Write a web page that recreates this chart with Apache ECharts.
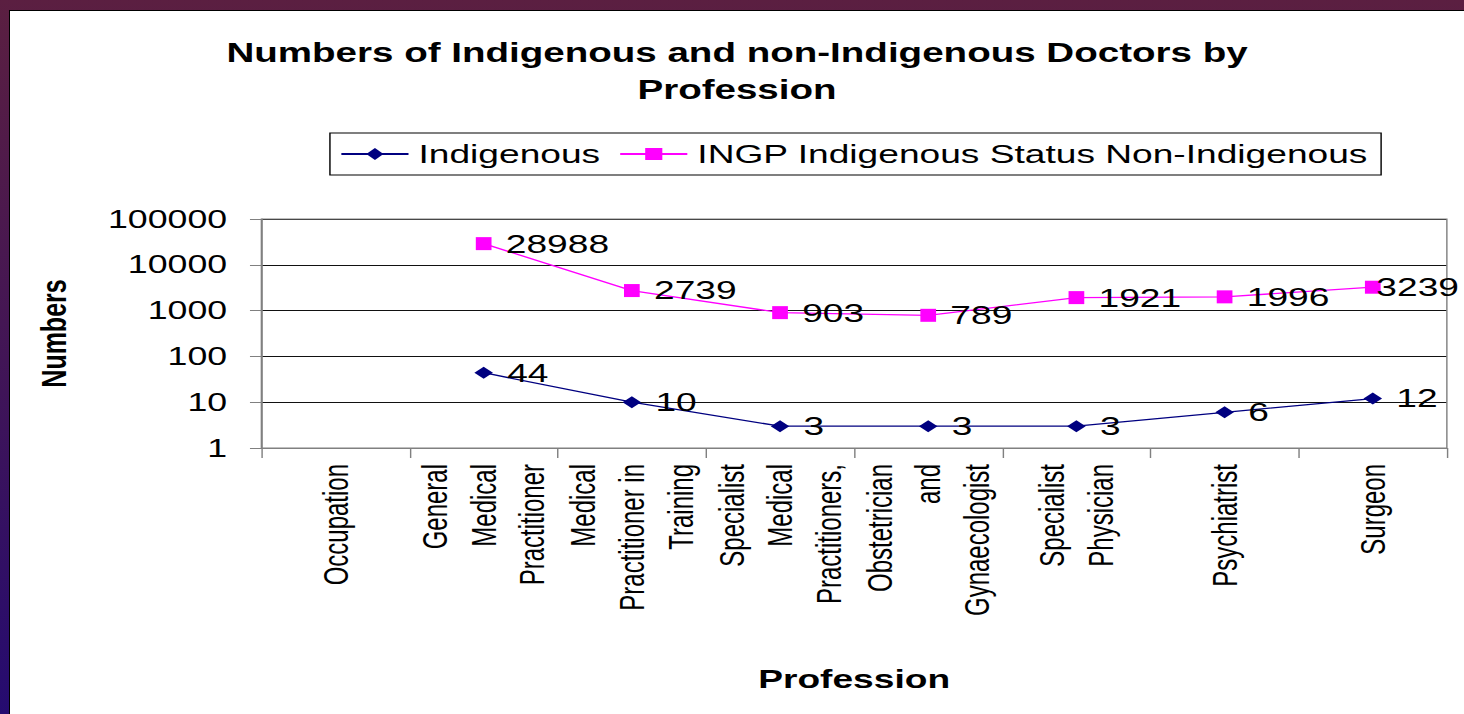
<!DOCTYPE html>
<html>
<head>
<meta charset="utf-8">
<title>Numbers of Indigenous and non-Indigenous Doctors by Profession</title>
<script src="https://cdn.jsdelivr.net/npm/echarts@6/dist/echarts.min.js"></script>
<style>
  html, body {
    margin: 0;
    width: 1464px;
    height: 714px;
    overflow: hidden;
    background: linear-gradient(to bottom, #5b1f41 0%, #3f1458 55%, #250b70 100%);
  }
  .slide {
    position: absolute;
    left: 9px;
    top: 10px;
    right: 0;
    bottom: 0;
    box-sizing: border-box;
    background: #fff;
    border-left: 1px solid #000;
    border-top: 1px solid #000;
    overflow: hidden;
  }
  /* the source picture is stretched sideways, so the chart is too */
  #chart {
    position: absolute;
    left: 0;
    top: 0;
    width: 1018px;
    height: 703px;
    transform: scaleX(1.4283);
    transform-origin: 0 0;
  }
</style>
</head>
<body>
<div class="slide"><div id="chart"></div></div>
<script>
const categories = [
  'Occupation',
  'General Medical Practitioner',
  'Medical Practitioner in Training',
  'Specialist Medical Practitioners,',
  'Obstetrician and Gynaecologist',
  'Specialist Physician',
  'Psychiatrist',
  'Surgeon'
]
// axis text as it wraps on the picture
const tickLabels = [
  'Occupation',
  'General\nMedical\nPractitioner',
  'Medical\nPractitioner in\nTraining',
  'Specialist\nMedical\nPractitioners,',
  'Obstetrician\nand\nGynaecologist',
  'Specialist\nPhysician',
  'Psychiatrist',
  'Surgeon'
]
const indigenous = [null, 44, 10, 3, 3, 3, 6, 12]
const nonIndigenous = [null, 28988, 2739, 903, 789, 1921, 1996, 3239]
const yTicks = [1, 10, 100, 1000, 10000, 100000]

const FONT = 'Arial, "Liberation Sans", sans-serif'
const NAVY = '#000080'
const MAGENTA = '#ff00ff'

const chart = echarts.init(document.getElementById('chart'), null, { renderer: 'svg' })

const labelStyle = {
  show: true,
  position: 'right',
  distance: 10,
  color: '#000',
  fontFamily: FONT,
  fontSize: 26
}

chart.setOption({
  backgroundColor: '#fff',
  animation: false,
  title: {
    text: 'Numbers of Indigenous and non-Indigenous Doctors by\nProfession',
    left: 'center',
    top: 18,
    textStyle: { fontFamily: FONT, fontSize: 27, fontWeight: 'bold', color: '#000', lineHeight: 37, align: 'center' }
  },
  legend: {
    left: 224,
    top: 122,
    padding: [8, 9, 8, 7],
    borderColor: '#000',
    borderWidth: 1,
    itemWidth: 47,
    itemHeight: 15,
    itemGap: 13,
    textStyle: { fontFamily: FONT, fontSize: 26, color: '#000', padding: [0, 0, 0, 2] },
    data: ['Indigenous', 'INGP Indigenous Status Non-Indigenous']
  },
  grid: { left: 176, right: 12, top: 208, bottom: 266, outerBoundsMode: 'none' },
  xAxis: {
    type: 'category',
    data: categories,
    boundaryGap: true,
    name: 'Profession',
    nameLocation: 'middle',
    nameGap: 218,
    nameTextStyle: { fontFamily: FONT, fontSize: 26, fontWeight: 'bold', color: '#000' },
    axisLine: { lineStyle: { color: '#808080', width: 1 } },
    axisTick: { show: true, length: 10, lineStyle: { color: '#808080' } },
    axisLabel: {
      interval: 0,
      rotate: 90,
      margin: 16,
      color: '#000',
      fontFamily: FONT,
      fontSize: 24,
      lineHeight: 34,
      formatter: (v, i) => tickLabels[i]
    },
    splitLine: { show: false }
  },
  yAxis: {
    type: 'log',
    logBase: 10,
    min: yTicks[0],
    max: yTicks[yTicks.length - 1],
    name: 'Numbers',
    nameLocation: 'middle',
    nameGap: 133,
    nameTextStyle: { fontFamily: FONT, fontSize: 25, fontWeight: 'bold', color: '#000' },
    axisLine: { show: true, lineStyle: { color: '#808080', width: 1 } },
    axisTick: { show: true, length: 8, lineStyle: { color: '#808080' } },
    axisLabel: {
      margin: 24,
      color: '#000',
      fontFamily: FONT,
      fontSize: 25,
      formatter: v => String(Math.round(v))
    },
    splitLine: { show: true, lineStyle: { color: '#111', width: 1 } },
    minorTick: { show: false }
  },
  series: [
    {
      name: 'Indigenous',
      type: 'line',
      data: indigenous,
      connectNulls: false,
      symbol: 'diamond',
      symbolSize: [13, 12],
      lineStyle: { color: NAVY, width: 1.3 },
      itemStyle: { color: NAVY },
      label: labelStyle
    },
    {
      name: 'INGP Indigenous Status Non-Indigenous',
      type: 'line',
      // last label sits closer to its point on the picture
      data: nonIndigenous.map((v, i) =>
        i === nonIndigenous.length - 1 ? { value: v, label: { offset: [-13, 0] } } : v),
      symbol: 'rect',
      symbolSize: [11, 13],
      lineStyle: { color: MAGENTA, width: 1.3 },
      itemStyle: { color: MAGENTA },
      label: labelStyle
    }
  ]
})

// grey frame round the plot area, from the grid's own rectangle
const grid = chart.getModel().getComponent('grid').coordinateSystem.getRect()
chart.setOption({
  graphic: [{
    type: 'rect',
    shape: { x: grid.x, y: grid.y, width: grid.width, height: grid.height },
    style: { fill: 'none', stroke: '#808080', lineWidth: 1 },
    silent: true,
    z: 0
  }]
})
</script>
</body>
</html>
